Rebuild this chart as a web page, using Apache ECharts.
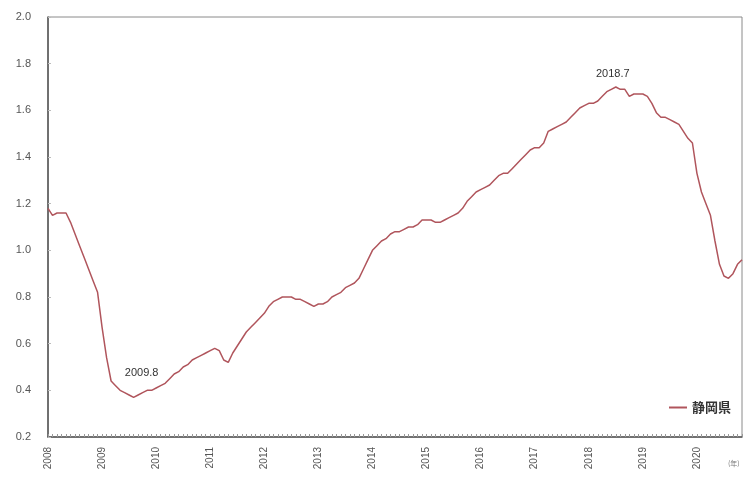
<!DOCTYPE html>
<html>
<head>
<meta charset="utf-8">
<script src="https://cdn.jsdelivr.net/npm/echarts@6/dist/echarts.min.js"></script>
<style>
html,body{margin:0;padding:0;background:#fff;}
#c{width:748px;height:477px;}
</style>
</head>
<body>
<div id="c"></div>
<script>
// Years covered (monthly data, Jan 2008 - Nov 2020)
var years = [2008,2009,2010,2011,2012,2013,2014,2015,2016,2017,2018,2019,2020];
var lastYearMonths = 11;
var seriesName = '静岡県';
// Monthly values by year
var v2008 = [1.18,1.15,1.16,1.16,1.16,1.12,1.07,1.02,0.97,0.92,0.87,0.82];
var v2009 = [0.67,0.54,0.44,0.42,0.40,0.39,0.38,0.37,0.38,0.39,0.40,0.40];
var v2010 = [0.41,0.42,0.43,0.45,0.47,0.48,0.50,0.51,0.53,0.54,0.55,0.56];
var v2011 = [0.57,0.58,0.57,0.53,0.52,0.56,0.59,0.62,0.65,0.67,0.69,0.71];
var v2012 = [0.73,0.76,0.78,0.79,0.80,0.80,0.80,0.79,0.79,0.78,0.77,0.76];
var v2013 = [0.77,0.77,0.78,0.80,0.81,0.82,0.84,0.85,0.86,0.88,0.92,0.96];
var v2014 = [1.00,1.02,1.04,1.05,1.07,1.08,1.08,1.09,1.10,1.10,1.11,1.13];
var v2015 = [1.13,1.13,1.12,1.12,1.13,1.14,1.15,1.16,1.18,1.21,1.23,1.25];
var v2016 = [1.26,1.27,1.28,1.30,1.32,1.33,1.33,1.35,1.37,1.39,1.41,1.43];
var v2017 = [1.44,1.44,1.46,1.51,1.52,1.53,1.54,1.55,1.57,1.59,1.61,1.62];
var v2018 = [1.63,1.63,1.64,1.66,1.68,1.69,1.70,1.69,1.69,1.66,1.67,1.67];
var v2019 = [1.67,1.66,1.63,1.59,1.57,1.57,1.56,1.55,1.54,1.51,1.48,1.46];
var v2020 = [1.33,1.25,1.20,1.15,1.04,0.94,0.89,0.88,0.90,0.94,0.96];
// Annotated points (category, text)
var noteCats = ['2009.8', '2018.7'];
var noteTexts = ['2009.8', '2018.7'];
// Y axis ticks
var yMin = 0.2, yMax = 2.0, yStep = 0.2;

var values = [].concat(v2008,v2009,v2010,v2011,v2012,v2013,v2014,v2015,v2016,v2017,v2018,v2019,v2020);
var cats = [];
years.forEach(function(y, k){
  var n = (k === years.length-1) ? lastYearMonths : 12;
  for (var m=1;m<=n;m++) cats.push(y + '.' + m);
});

var markData = noteCats.map(function(c, k){
  var idx = cats.indexOf(c);
  return {
    coord:[c, values[idx]],
    label:{show:true, formatter:noteTexts[k], position:'top',
      offset: k===0 ? [8,-14] : [-3,-3],
      color:'#333', fontSize:11, fontFamily:'Liberation Sans, Arial, sans-serif'}
  };
});

var chart = echarts.init(document.getElementById('c'), null, {renderer:'canvas'});
chart.setOption({
  animation:false,
  backgroundColor:'#fff',
  grid:{left:48, right:6, top:17, bottom:40, show:true, borderColor:'#8a8a8a', borderWidth:1, containLabel:false},
  legend:{
    right:12, top:396, itemWidth:18, itemHeight:2, itemGap:4,
    data:[{name:seriesName, icon:'rect'}],
    textStyle:{color:'#333', fontSize:13, fontWeight:'bold', fontFamily:'Noto Sans CJK JP, sans-serif'}
  },
  xAxis:{
    type:'category', data:cats, boundaryGap:false,
    axisLine:{lineStyle:{color:'#555', width:1.5}},
    axisTick:{show:true, inside:true, interval:0, length:3, lineStyle:{color:'#999'}},
    axisLabel:{interval:function(i){return i%12===0;}, rotate:90, formatter:function(v){return v.split('.')[0];},
      color:'#555', fontSize:10, fontFamily:'Liberation Sans, Arial, sans-serif', margin:10},
    splitLine:{show:false}
  },
  yAxis:{
    type:'value', min:yMin, max:yMax, interval:yStep,
    axisLine:{show:true, lineStyle:{color:'#555', width:1.5}},
    axisTick:{show:true, inside:true, length:3, lineStyle:{color:'#bbb'}},
    axisLabel:{formatter:function(v){return v.toFixed(1);}, color:'#555', fontSize:11, fontFamily:'Liberation Sans, Arial, sans-serif', margin:17},
    splitLine:{show:false}
  },
  series:[{
    name:seriesName, type:'line', data:values, symbol:'none', smooth:false,
    lineStyle:{color:'#b0555c', width:1.5}, itemStyle:{color:'#b0555c'},
    markPoint:{symbol:'circle', symbolSize:0, silent:true, itemStyle:{color:'transparent'}, data:markData}
  }],
  graphic:[{type:'text', left:728, top:460, style:{text:'(年)', fill:'#777', fontSize:7, fontFamily:'Noto Sans CJK JP, sans-serif'}}]
});
</script>
</body>
</html>
